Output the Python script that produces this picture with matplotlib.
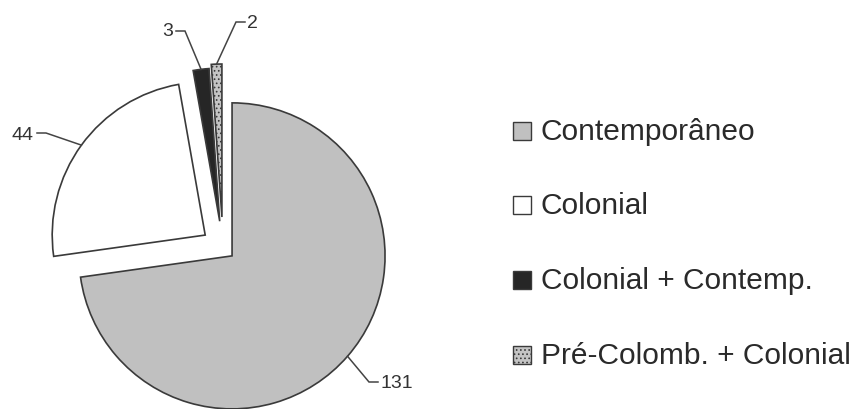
import matplotlib
matplotlib.use('Agg')
import matplotlib.pyplot as plt
import numpy as np
from matplotlib.patches import Rectangle

# ---- data ----
categories = ['Contemporâneo', 'Colonial', 'Colonial + Contemp.', 'Pré-Colomb. + Colonial']
values = [131, 44, 3, 2]
value_labels = ['131', '44', '3', '2']

# ---- style ----
colors = ['#c0c0c0', '#ffffff', '#262626', '#c4c4c4']
hatches = [None, None, None, '....']
explode = [12, 22, 27, 31]          # pixels
EDGE = '#3a3a3a'
TXT = '#333333'

W, H = 862, 409
plt.rcParams['font.family'] = ['Liberation Sans', 'DejaVu Sans']
plt.rcParams['hatch.linewidth'] = 0.7

fig = plt.figure(figsize=(W / 100, H / 100), dpi=100)
ax = fig.add_axes([0, 0, 1, 1])


def Y(y):
    return H - y


wedges, _ = ax.pie(values, explode=explode, colors=colors, startangle=90,
                   counterclock=False, radius=153, center=(223, Y(248)),
                   wedgeprops=dict(edgecolor=EDGE, linewidth=1.2), frame=True)
for w, h in zip(wedges, hatches):
    if h:
        w.set_hatch(h)

ax.set_xlim(0, W)
ax.set_ylim(0, H)
ax.set_aspect('equal')
ax.axis('off')

# value labels with elbow leader lines (image pixel coords)
layout = [
    dict(elbow=(369, 382), end=(378, 382), text=(381, 384), ha='left'),
    dict(elbow=(46, 133), end=(37, 133), text=(34, 135), ha='right'),
    dict(elbow=(185, 31), end=(176, 31), text=(173, 32), ha='right'),
    dict(elbow=(236, 22), end=(245, 22), text=(247, 23), ha='left'),
]
for w, lab, lay in zip(wedges, value_labels, layout):
    thm = np.deg2rad((w.theta1 + w.theta2) / 2)
    cx, cy = w.center
    px, py = cx + w.r * np.cos(thm), cy + w.r * np.sin(thm)
    ex, ey = lay['elbow']
    tx, ty = lay['end']
    ax.plot([px, ex, tx], [py, Y(ey), Y(ty)], color='#444444', lw=1.1,
            solid_joinstyle='miter')
    ax.text(lay['text'][0], Y(lay['text'][1]), lab, ha=lay['ha'], va='center',
            fontsize=14, color=TXT)

# legend
base = [140, 214, 289, 364]
for w, cat, b in zip(wedges, categories, base):
    r = Rectangle((513, Y(b)), 18, 18, facecolor=w.get_facecolor(),
                  edgecolor=EDGE, linewidth=1.0, hatch=w.get_hatch())
    ax.add_patch(r)
    ax.text(541, Y(b), cat, ha='left', va='baseline', fontsize=21.5, color='#2a2a2a')

fig.savefig('out.png', dpi=100, facecolor='white')
